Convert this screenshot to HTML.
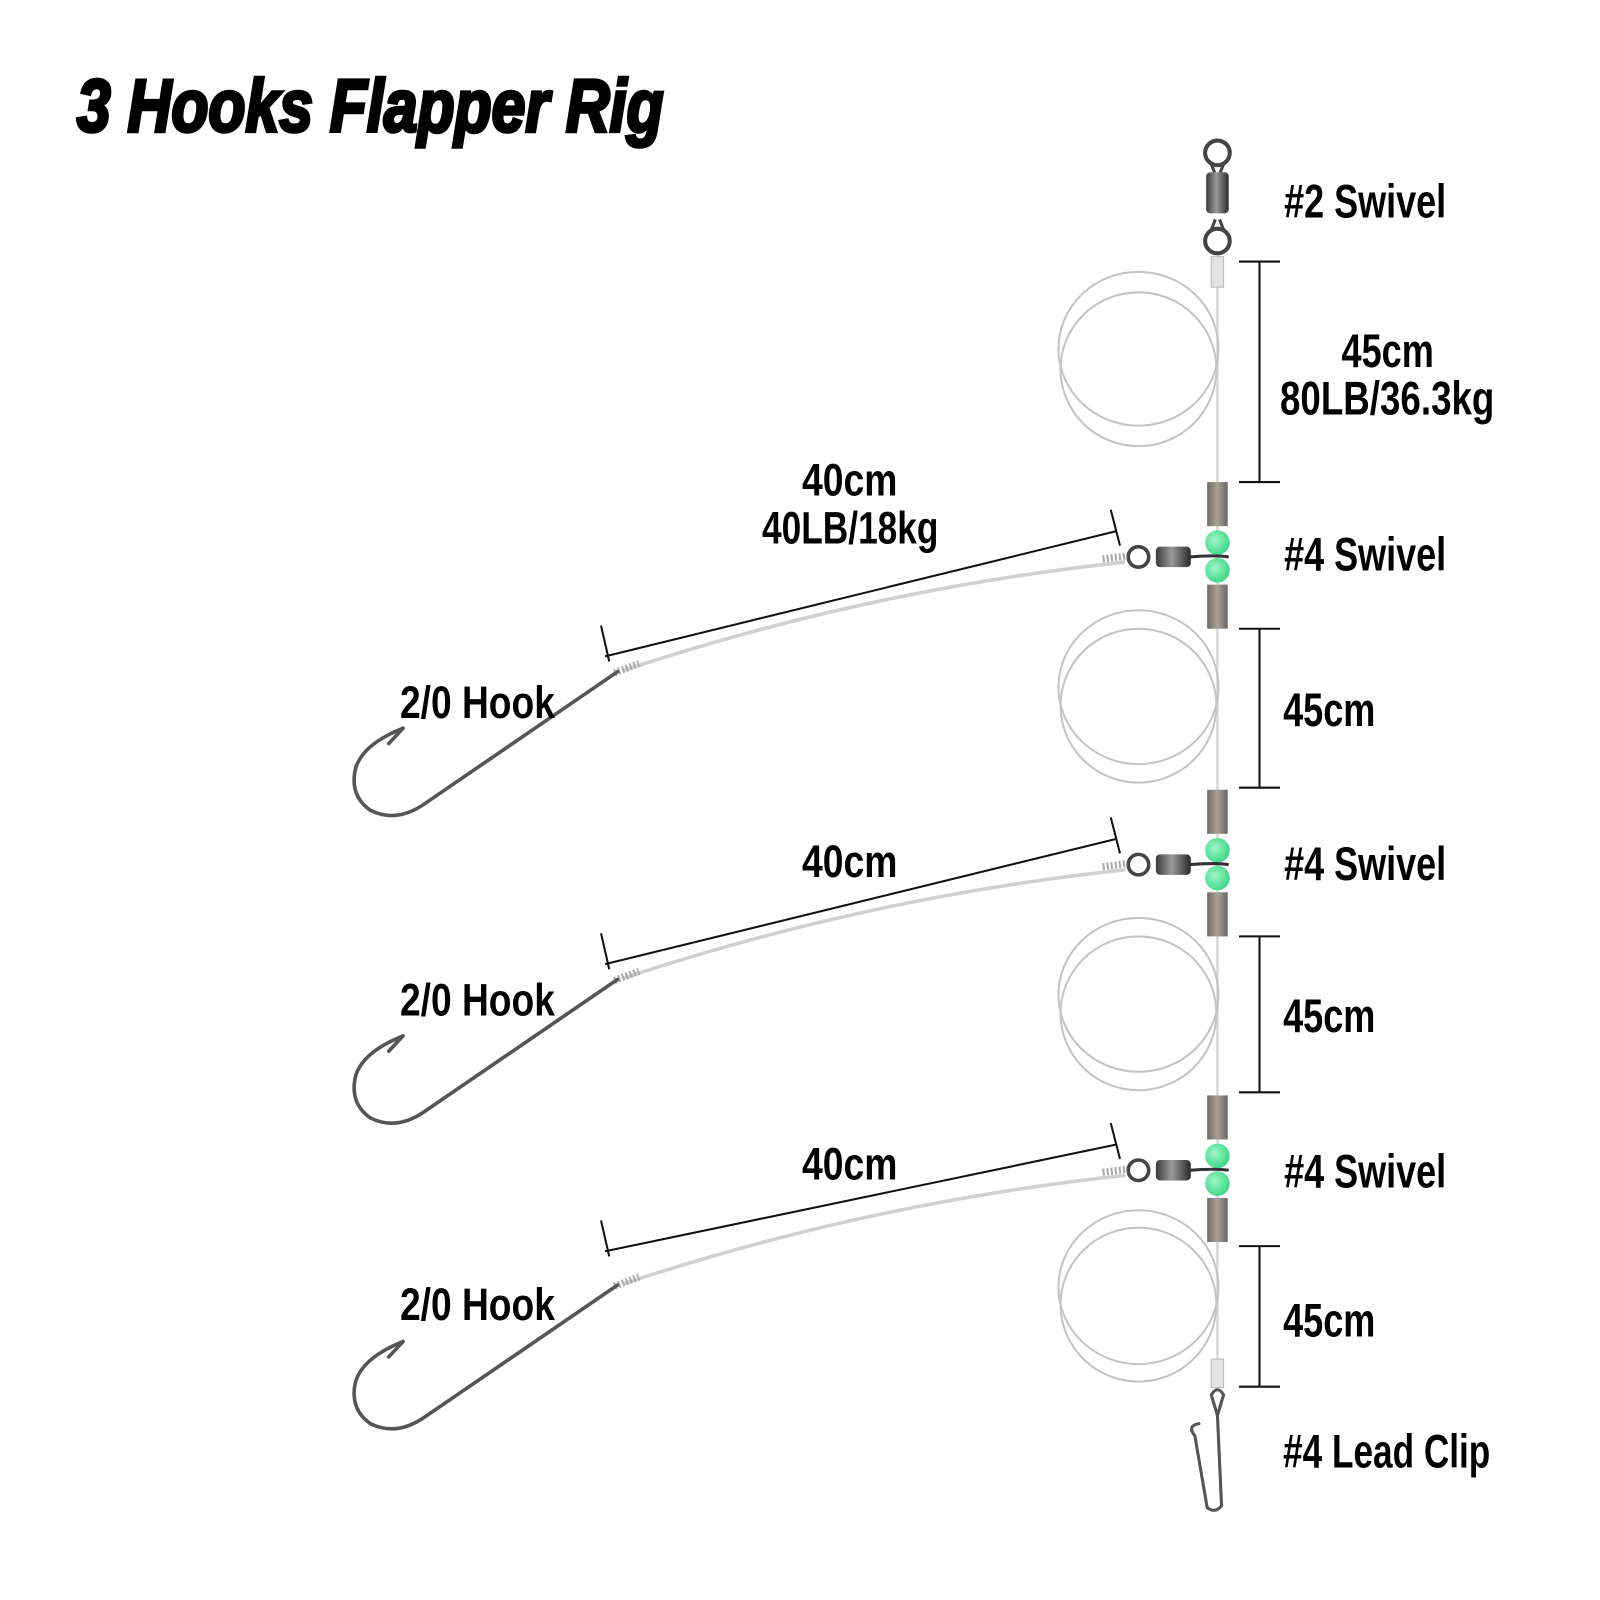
<!DOCTYPE html>
<html><head><meta charset="utf-8"><style>
html,body{margin:0;padding:0;background:#fff}
svg{display:block}
text{font-family:"Liberation Sans Narrow","Liberation Sans",sans-serif;font-weight:bold;fill:#000}
</style></head><body>
<svg width="1600" height="1600" viewBox="0 0 1560 1560" xmlns="http://www.w3.org/2000/svg">
<defs>
<linearGradient id="metal" x1="0" x2="1" y1="0" y2="0">
<stop offset="0" stop-color="#3a3a3a"/><stop offset="0.45" stop-color="#9a9a9a"/><stop offset="1" stop-color="#2a2a2a"/>
</linearGradient>
<linearGradient id="sleeve" x1="0" x2="1" y1="0" y2="0">
<stop offset="0" stop-color="#6e6a64"/><stop offset="0.5" stop-color="#a7a39c"/><stop offset="1" stop-color="#6a665f"/>
</linearGradient>
<radialGradient id="bead" cx="0.4" cy="0.4" r="0.6">
<stop offset="0" stop-color="#9ff5c4"/><stop offset="1" stop-color="#3fd98a"/>
</radialGradient>
</defs>

<text x="75" y="128" font-size="72" font-style="italic" textLength="572" lengthAdjust="spacingAndGlyphs" stroke="#000" stroke-width="3.5" style="font-family:'Liberation Sans Narrow','Liberation Sans',sans-serif;font-weight:900">3 Hooks Flapper Rig</text>

<g transform="translate(-5,0)">
<!-- main line -->
<line x1="1192" y1="250" x2="1192" y2="1340" stroke="#d8d8d8" stroke-width="2.5"/>

<!-- loops -->
<g fill="none" stroke="#c4c4c4" stroke-width="2">
<ellipse cx="1115" cy="340" rx="78" ry="75"/><ellipse cx="1115" cy="360" rx="76" ry="75"/>
<ellipse cx="1115" cy="670" rx="78" ry="75"/><ellipse cx="1115" cy="688" rx="76" ry="75"/>
<ellipse cx="1115" cy="970" rx="78" ry="75"/><ellipse cx="1115" cy="988" rx="76" ry="75"/>
<ellipse cx="1115" cy="1255" rx="78" ry="75"/><ellipse cx="1115" cy="1272" rx="76" ry="75"/>
</g>

<!-- top swivel -->
<g fill="none" stroke="#444" stroke-width="4">
<circle cx="1192" cy="149" r="12"/><circle cx="1192" cy="235" r="12"/>
<path d="M1186 160 L1190 170 M1198 160 L1194 170 M1186 224 L1190 214 M1198 224 L1194 214" stroke-width="3"/>
</g>
<rect x="1181" y="168" width="22" height="40" rx="4" fill="url(#metal)"/>
<rect x="1186" y="250" width="12" height="30" fill="#e2e2e2" stroke="#bbb"/>

<!-- dimension brackets right -->
<g stroke="#111" stroke-width="2" fill="none">
<path d="M1213 255 H1253 M1233 255 V470 M1213 470 H1253"/>
<path d="M1213 613 H1253 M1233 613 V768 M1213 768 H1253"/>
<path d="M1213 913 H1253 M1233 913 V1065 M1213 1065 H1253"/>
<path d="M1213 1215 H1253 M1233 1215 V1352 M1213 1352 H1253"/>
</g>

<text x="1257" y="212" font-size="46" textLength="158" lengthAdjust="spacingAndGlyphs">#2 Swivel</text>
<text x="1313" y="358" font-size="46" textLength="90" lengthAdjust="spacingAndGlyphs">45cm</text>
<text x="1253" y="404" font-size="46" textLength="209" lengthAdjust="spacingAndGlyphs">80LB/36.3kg</text>
<text x="1257" y="556" font-size="46" textLength="158" lengthAdjust="spacingAndGlyphs">#4 Swivel</text>
<text x="1256" y="708" font-size="46" textLength="90" lengthAdjust="spacingAndGlyphs">45cm</text>
<text x="1257" y="858" font-size="46" textLength="158" lengthAdjust="spacingAndGlyphs">#4 Swivel</text>
<text x="1256" y="1006" font-size="46" textLength="90" lengthAdjust="spacingAndGlyphs">45cm</text>
<text x="1257" y="1158" font-size="46" textLength="158" lengthAdjust="spacingAndGlyphs">#4 Swivel</text>
<text x="1256" y="1303" font-size="46" textLength="90" lengthAdjust="spacingAndGlyphs">45cm</text>
<text x="1256" y="1431" font-size="46" textLength="202" lengthAdjust="spacingAndGlyphs">#4 Lead Clip</text>

<!-- groups -->
<g>
<rect x="1182" y="470" width="20" height="43" fill="url(#sleeve)"/>
<rect x="1182" y="570" width="20" height="43" fill="url(#sleeve)"/>
<circle cx="1192" cy="529" r="12" fill="url(#bead)"/>
<circle cx="1192" cy="556" r="12" fill="url(#bead)"/>
<path d="M1165 543 Q1190 541 1203 543" stroke="#333" stroke-width="3" fill="none"/>
<rect x="1132" y="533" width="34" height="20" rx="4" fill="url(#metal)"/>
<circle cx="1115" cy="543" r="10" fill="none" stroke="#444" stroke-width="3.5"/>
<path d="M1102 548 Q850 575 612 654" stroke="#d0d0d0" stroke-width="3.5" fill="none"/>
<path d="M1080 545 L1104 542" stroke="#aaa" stroke-width="7" stroke-dasharray="2 2"/>
<path d="M604 656 L628 647" stroke="#aaa" stroke-width="7" stroke-dasharray="2 2"/>
<path d="M607 655 L420 783 Q392 803 366 790 Q345 775 352 748 Q360 725 398 710 M398 710 L384 725" stroke="#555" stroke-width="3.5" fill="none" stroke-linecap="round"/>
<g stroke="#111" stroke-width="2"><path d="M595 640 L1093 518 M591 610 L599 645 M1088 497 L1097 532"/></g>
<text x="787" y="483" font-size="44" textLength="93" lengthAdjust="spacingAndGlyphs">40cm</text>
<text x="748" y="530" font-size="44" textLength="172" lengthAdjust="spacingAndGlyphs">40LB/18kg</text>
<text x="395" y="700" font-size="44" textLength="151" lengthAdjust="spacingAndGlyphs">2/0 Hook</text>
</g>

<g transform="translate(0,300)">
<rect x="1182" y="470" width="20" height="43" fill="url(#sleeve)"/>
<rect x="1182" y="570" width="20" height="43" fill="url(#sleeve)"/>
<circle cx="1192" cy="529" r="12" fill="url(#bead)"/>
<circle cx="1192" cy="556" r="12" fill="url(#bead)"/>
<path d="M1165 543 Q1190 541 1203 543" stroke="#333" stroke-width="3" fill="none"/>
<rect x="1132" y="533" width="34" height="20" rx="4" fill="url(#metal)"/>
<circle cx="1115" cy="543" r="10" fill="none" stroke="#444" stroke-width="3.5"/>
<path d="M1102 548 Q850 575 612 654" stroke="#d0d0d0" stroke-width="3.5" fill="none"/>
<path d="M1080 545 L1104 542" stroke="#aaa" stroke-width="7" stroke-dasharray="2 2"/>
<path d="M604 656 L628 647" stroke="#aaa" stroke-width="7" stroke-dasharray="2 2"/>
<path d="M607 655 L420 783 Q392 803 366 790 Q345 775 352 748 Q360 725 398 710 M398 710 L384 725" stroke="#555" stroke-width="3.5" fill="none" stroke-linecap="round"/>
<g stroke="#111" stroke-width="2"><path d="M595 640 L1093 518 M591 610 L599 645 M1088 497 L1097 532"/></g>
<text x="787" y="555" font-size="44" textLength="93" lengthAdjust="spacingAndGlyphs">40cm</text>
<text x="395" y="690" font-size="44" textLength="151" lengthAdjust="spacingAndGlyphs">2/0 Hook</text>
</g>

<g transform="translate(0,598)">
<rect x="1182" y="470" width="20" height="43" fill="url(#sleeve)"/>
<rect x="1182" y="570" width="20" height="43" fill="url(#sleeve)"/>
<circle cx="1192" cy="529" r="12" fill="url(#bead)"/>
<circle cx="1192" cy="556" r="12" fill="url(#bead)"/>
<path d="M1165 543 Q1190 541 1203 543" stroke="#333" stroke-width="3" fill="none"/>
<rect x="1132" y="533" width="34" height="20" rx="4" fill="url(#metal)"/>
<circle cx="1115" cy="543" r="10" fill="none" stroke="#444" stroke-width="3.5"/>
<path d="M1102 548 Q850 575 612 654" stroke="#d0d0d0" stroke-width="3.5" fill="none"/>
<path d="M1080 545 L1104 542" stroke="#aaa" stroke-width="7" stroke-dasharray="2 2"/>
<path d="M604 656 L628 647" stroke="#aaa" stroke-width="7" stroke-dasharray="2 2"/>
<path d="M607 655 L420 783 Q392 803 366 790 Q345 775 352 748 Q360 725 398 710 M398 710 L384 725" stroke="#555" stroke-width="3.5" fill="none" stroke-linecap="round"/>
<g stroke="#111" stroke-width="2"><path d="M595 622 L1093 518 M591 592 L599 627 M1088 497 L1097 532"/></g>
<text x="787" y="552" font-size="44" textLength="93" lengthAdjust="spacingAndGlyphs">40cm</text>
<text x="395" y="689" font-size="44" textLength="151" lengthAdjust="spacingAndGlyphs">2/0 Hook</text>
</g>

<!-- lead clip -->
<rect x="1186" y="1325" width="12" height="28" fill="#e2e2e2" stroke="#bbb"/>
<g fill="none" stroke="#555" stroke-width="3" stroke-linecap="round">
<path d="M1192 1380 L1186 1360 Q1192 1350 1198 1360 L1192 1380"/>
<path d="M1192 1380 L1196 1468 Q1190 1476 1182 1470 L1170 1400 Q1162 1390 1174 1388"/>
</g>
</g>
</svg>
</body></html>
